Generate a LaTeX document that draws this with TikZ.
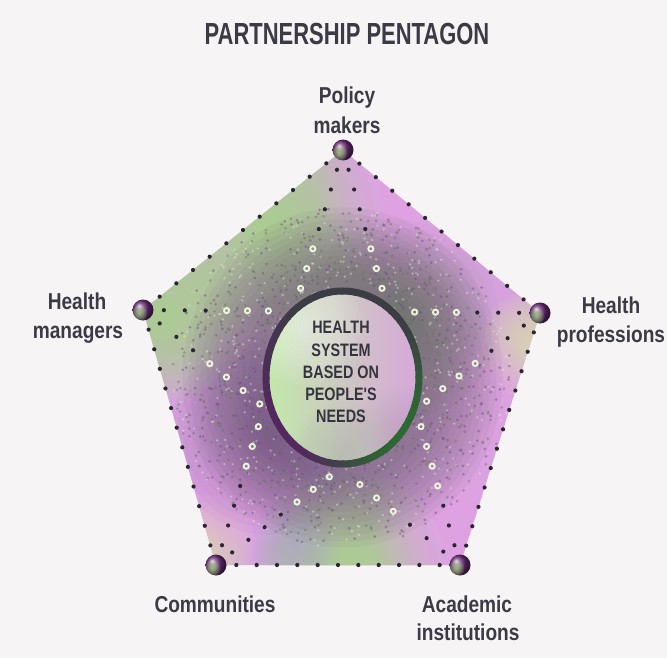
\documentclass[tikz,border=0pt]{standalone}
\usepackage{fontspec}
\setmainfont{Liberation Sans}
\newfontfamily\titlefont[FakeStretch=0.72]{Liberation Sans}
\newfontfamily\labelfont[FakeStretch=0.83]{Liberation Sans}
\newfontfamily\corefont[FakeStretch=0.80]{Liberation Sans}
\usetikzlibrary{calc}

\definecolor{bgc}{HTML}{F7F4F6}
\definecolor{inkc}{HTML}{3B3A45}
\definecolor{lav}{HTML}{D6A2DE}
\definecolor{leaf}{HTML}{A4DA84}
\definecolor{paleleaf}{HTML}{D6E8A8}
\definecolor{rose}{HTML}{EAA6EE}
\definecolor{haze}{HTML}{A7A6CC}
\definecolor{murk}{HTML}{6A5E6E}
\definecolor{murkG}{HTML}{5E7A52}
\definecolor{murkP}{HTML}{6E4A7E}
\definecolor{dotc}{HTML}{2A2530}
\definecolor{ringP}{HTML}{52285E}
\definecolor{ringD}{HTML}{3C3C44}
\definecolor{ringG}{HTML}{2C6A30}
\definecolor{coreG}{HTML}{C2E8AA}
\definecolor{coreP}{HTML}{D8A8DA}
\definecolor{opale}{HTML}{EAF5DC}
\definecolor{orbA}{HTML}{B8F090}
\definecolor{orbC}{HTML}{6A2C78}

% soft blob: colour, x, y, radius, step opacity
\newcommand\softblob[5]{%
  \foreach \s in {1,...,14}{%
    \pgfmathsetmacro\rr{#4*\s/14}%
    \fill[#1, fill opacity=#5] (#2,#3) circle (\rr pt);%
  }%
}

\begin{document}
\begin{tikzpicture}[x=1pt,y=-1pt,
  ttl/.style={font=\titlefont\bfseries\fontsize{30.5}{30.5}\selectfont, text=inkc, anchor=base, inner sep=0pt},
  lbl/.style={font=\labelfont\bfseries\fontsize{23}{23}\selectfont, text=inkc, anchor=base, inner sep=0pt},
  core/.style={font=\corefont\bfseries\fontsize{18}{18}\selectfont, text=inkc!90!black, anchor=base, inner sep=0pt},
  orbnode/.style={circle, minimum size=21pt, inner sep=0pt, ball color=orbC},
  edgedot/.style={fill=dotc},
  omark/.style={draw=opale, line width=1.9pt}]
\fill[bgc] (0,0) rectangle (667,658);
\useasboundingbox (0,0) rectangle (667,658);

\coordinate (vT) at (343,150);
\coordinate (vL) at (143,310);
\coordinate (vR) at (540,313);
\coordinate (vBL) at (216,565);
\coordinate (vBR) at (460,565);
\coordinate (ctr) at (342.5,377.5);

% pentagon colour field
\begin{scope}
\clip (vT) -- (vR) -- (vBR) -- (vBL) -- (vL) -- cycle;
\fill[lav] (100,100) rectangle (600,600);
\softblob{leaf}{270}{225}{115}{0.11}
\softblob{leaf}{165}{315}{85}{0.11}
\softblob{leaf}{350}{565}{95}{0.11}
\softblob{paleleaf}{535}{345}{55}{0.09}
\softblob{paleleaf}{205}{545}{50}{0.09}
\softblob{rose}{410}{195}{90}{0.08}
\softblob{rose}{470}{400}{70}{0.07}
\softblob{rose}{455}{525}{80}{0.08}
\softblob{rose}{235}{500}{60}{0.08}
\softblob{haze}{295}{545}{45}{0.06}
% dark textured zone around the disc
\foreach \s in {1,...,12}{
  \pgfmathsetmacro\rx{88+\s*6}
  \pgfmathsetmacro\ry{98+\s*6}
  \fill[murk, fill opacity=0.075] (ctr) ellipse (\rx pt and \ry pt);
}
\softblob{murkG}{400}{320}{100}{0.04}
\softblob{murkP}{270}{435}{100}{0.04}
\pgfmathsetseed{7}
\foreach \k in {1,...,1500}{
  \pgfmathsetmacro\ang{rnd*360}
  \pgfmathsetmacro\rad{70+rnd*100}
  \pgfmathtruncatemacro\cc{int(rnd*3)}
  \ifcase\cc
    \fill[murkP, opacity=.45] ($(ctr)+(\ang:\rad pt)$) circle (1.5pt);
  \or
    \fill[murkG, opacity=.45] ($(ctr)+(\ang:\rad pt)$) circle (1.5pt);
  \or
    \fill[opale, opacity=.4] ($(ctr)+(\ang:\rad pt)$) circle (1.3pt);
  \fi
}
\end{scope}

% dotted pentagon outline
\foreach \a/\b in {vT/vL, vL/vBL, vBL/vBR, vBR/vR, vR/vT}{
  \pgfpointanchor{\a}{center}\pgfgetlastxy{\ax}{\ay}
  \pgfpointanchor{\b}{center}\pgfgetlastxy{\bx}{\by}
  \pgfmathtruncatemacro\nn{round(veclen(\bx-\ax,\by-\ay)/20.5)}
  \pgfmathtruncatemacro\nm{\nn-1}
  \foreach \i in {1,...,\nm}{
    \fill[edgedot] ($(\a)!\i/\nn!(\b)$) circle (2.1pt);
  }
}

% dotted pentagram
\foreach \a/\b in {vL/vR, vT/vBL, vT/vBR, vL/vBR, vR/vBL}{
  \pgfpointanchor{\a}{center}\pgfgetlastxy{\ax}{\ay}
  \pgfpointanchor{\b}{center}\pgfgetlastxy{\bx}{\by}
  \pgfmathtruncatemacro\nn{round(veclen(\bx-\ax,\by-\ay)/21)}
  \pgfmathtruncatemacro\nm{\nn-1}
  \foreach \i in {1,...,\nm}{
    \path ($(\a)!\i/\nn!(\b)$) coordinate (mk);
    \pgfpointanchor{mk}{center}\pgfgetlastxy{\mx}{\my}
    \pgfmathsetmacro\ee{((\mx-342.5)/84)^2+((\my+377.5)/94)^2}
    \pgfmathsetmacro\dd{veclen(\mx-342.5,\my+377.5)}
    \pgfmathtruncatemacro\kind{\ee<1 ? 0 : (\dd<146 ? 1 : 2)}
    \ifcase\kind
    \or
      \draw[omark] (mk) circle (2.6pt);
    \or
      \fill[edgedot] (mk) circle (2.1pt);
    \fi
  }
}

% central disc
\shade[left color=coreG, right color=coreP] (ctr) ellipse (74pt and 84pt);
\begin{scope}
\clip (ctr) ellipse (74pt and 84pt);
\softblob{white}{305}{325}{60}{0.05}
\softblob{murkG!50!white}{345}{462}{60}{0.05}
\softblob{murkP!50!white}{400}{430}{45}{0.04}
\end{scope}
\foreach \t in {0,5,...,355}{
  \pgfmathtruncatemacro\pw{100*max(0,cos(\t-215))}
  \pgfmathtruncatemacro\gw{100*max(0,cos(\t+40))^2}
  \colorlet{segtmp}{ringP!\pw!ringD}
  \colorlet{segc}{ringG!\gw!segtmp}
  \draw[segc, line width=7pt] ($(ctr)+(\t:76.5pt and 86.5pt)$) arc[start angle=\t, end angle=\t+6, x radius=76.5pt, y radius=86.5pt];
}
\node[core] (c1) at (341,333) {HEALTH};
\node[core] (c2) at (341,356) {SYSTEM};
\node[core] (c3) at (341,378) {BASED ON};
\node[core] (c4) at (341,400) {PEOPLE'S};
\node[core] (c5) at (341,422) {NEEDS};

% vertex spheres
\foreach \v in {vT, vL, vR, vBL, vBR}{
  \node[orbnode] (b\v) at (\v) {};
  \begin{scope}
    \clip (\v) circle (10.5pt);
    \path (\v) ++(-3.5pt,-3.5pt) coordinate (hl);
    \pgfpointanchor{hl}{center}\pgfgetlastxy{\hx}{\hy}
    \foreach \s in {1,...,8}{
      \pgfmathsetmacro\rr{8*\s/8}
      \fill[orbA, fill opacity=0.13] (hl) circle (\rr pt);
    }
  \end{scope}
}

% texts
\node[ttl] (title) at (347,45) {PARTNERSHIP PENTAGON};
\node[lbl] (pol1) at (347,104) {Policy};
\node[lbl] (pol2) at (347,134) {makers};
\node[lbl] (hm1) at (77,309) {Health};
\node[lbl] (hm2) at (78,338) {managers};
\node[lbl] (hp1) at (611,313) {Health};
\node[lbl] (hp2) at (611,342) {professions};
\node[lbl] (com) at (215,612) {Communities};
\node[lbl] (ac1) at (467,612) {Academic};
\node[lbl] (ac2) at (468,640) {institutions};
\end{tikzpicture}
\end{document}
